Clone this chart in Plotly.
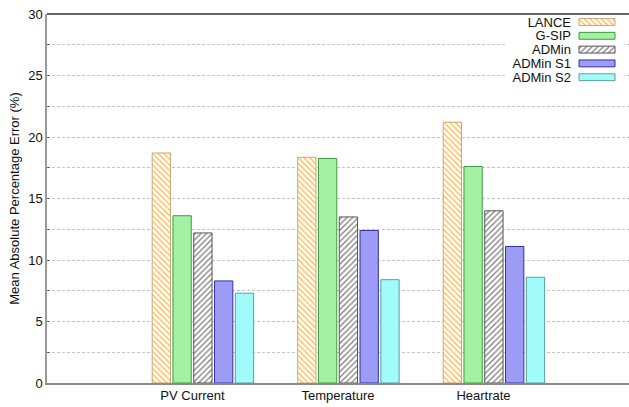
import plotly.graph_objects as go

categories = ["PV Current", "Temperature", "Heartrate"]
series_names = ["LANCE", "G-SIP", "ADMin", "ADMin S1", "ADMin S2"]
lance = [18.7, 18.35, 21.2]
gsip = [13.6, 18.25, 17.6]
admin = [12.2, 13.5, 14.0]
admin_s1 = [8.3, 12.4, 11.1]
admin_s2 = [7.3, 8.4, 8.6]
y_ticks = [0, 5, 10, 15, 20, 25, 30]

values = [lance, gsip, admin, admin_s1, admin_s2]

styles = [
    dict(color="white", line="#C8A878", shape="\\", fg="#FFB340", bg="white", size=4, sol=0.3),
    dict(color="#9AF09A", line="#3C9C3C", shape=".", fg="#7CEA7C", bg="#C4F8C4", size=2, sol=0.5),
    dict(color="white", line="#555555", shape="/", fg="#7A7A7A", bg="white", size=4, sol=0.3),
    dict(color="#8C8CF8", line="#30309A", shape=".", fg="#7474F2", bg="#BCBCFC", size=2, sol=0.5),
    dict(color="#90FCFC", line="#5E9E9E", shape=".", fg="#70F6F6", bg="#C8FFFF", size=2, sol=0.5),
]

slot = 1.0 / 7.0
bar_w = 0.88 * slot

fig = go.Figure()
for j, (name, vals, st) in enumerate(zip(series_names, values, styles)):
    pattern = dict(shape=st["shape"], fgcolor=st["fg"], bgcolor=st["bg"],
                   size=st["size"], solidity=st["sol"], fillmode="replace")
    fig.add_trace(go.Bar(
        x=categories, y=vals, name=name,
        width=bar_w, offset=(j - 1.5) * slot - bar_w / 2,
        marker=dict(color=st["color"], line=dict(color=st["line"], width=1), pattern=pattern),
        showlegend=False, xaxis="x", yaxis="y",
    ))
    # legend swatch drawn in an inset subplot
    fig.add_trace(go.Bar(
        x=[1], y=[name], base=0, orientation="h", width=0.5,
        marker=dict(color=st["color"], line=dict(color=st["line"], width=1), pattern=pattern),
        showlegend=False, xaxis="x2", yaxis="y2", hoverinfo="skip",
    ))

W, H = 629, 407
ml, mr, mt, mb = 47, 0, 14, 24
pw, ph = W - ml - mr, H - mt - mb

def fx(px):
    return (px - ml) / pw

def fy(py):
    return 1 - (py - mt) / ph

grid_col = "#C4C4C4"
fig.update_layout(
    width=W, height=H,
    margin=dict(l=ml, r=mr, t=mt, b=mb),
    paper_bgcolor="white", plot_bgcolor="white",
    barmode="overlay",
    font=dict(family="Liberation Sans, Arial, sans-serif", size=13, color="#222222"),
    xaxis=dict(
        type="category", categoryorder="array", categoryarray=categories,
        range=[-1, 3], showgrid=False, showline=True, linecolor="#8A8A8A", linewidth=1.5,
        ticks="", zeroline=False, tickfont=dict(size=13, color="#111111"),
    ),
    yaxis=dict(
        range=[0, 30], tickvals=y_ticks, showgrid=True, gridcolor=grid_col,
        griddash="3px,2px", gridwidth=1, showline=True, linecolor="#9A9A9A", linewidth=1.5,
        ticks="inside", ticklen=3, tickcolor="#666666", zeroline=False,
        minor=dict(dtick=2.5, showgrid=True, gridcolor=grid_col, griddash="3px,2px", ticks="inside", ticklen=3, tickcolor="#666666"),
        title=dict(text="Mean Absolute Percentage Error (%)", font=dict(size=13, color="#111111"), standoff=6),
        tickfont=dict(size=13, color="#111111"),
    ),
    xaxis2=dict(domain=[fx(506), fx(624)], anchor="y2",
                range=[(506 - 579) / 36.0, (624 - 579) / 36.0],
                visible=False, fixedrange=True),
    yaxis2=dict(domain=[fy(86), fy(14)], anchor="free", position=fx(579), side="left",
                type="category", categoryorder="array", categoryarray=series_names,
                tickmode="array", tickvals=series_names, ticktext=series_names,
                range=[(86 - 22) / 13.8, (14 - 22) / 13.8],
                showgrid=False, showline=False, zeroline=False, ticks="",
                ticklabelstandoff=8, tickfont=dict(size=13, color="#111111"), fixedrange=True),
    shapes=[dict(type="line", xref="paper", yref="paper", x0=0, x1=1, y0=1, y1=1,
                 line=dict(color="#333333", width=1.5), layer="above")],
)

fig.write_html("out.html")
